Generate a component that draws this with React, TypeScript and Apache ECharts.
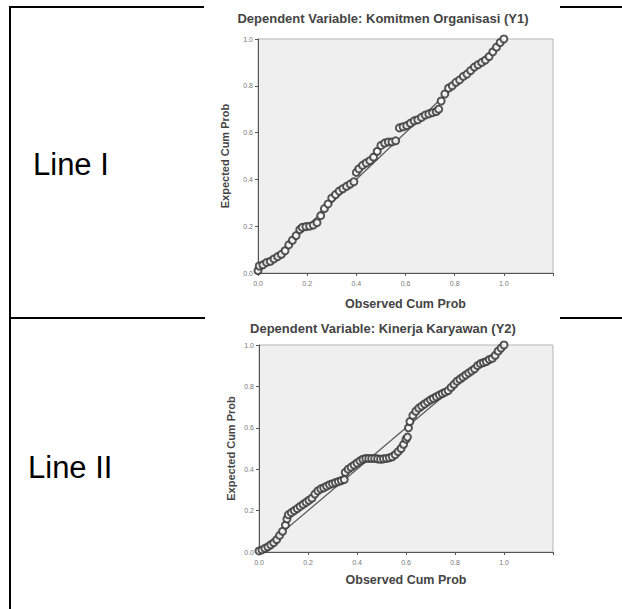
import React, { useEffect, useRef } from "react";
import * as echarts from "echarts";

// Normal P-P plot, Y1 (Komitmen Organisasi): [observed, expected]
const pointsY1: [number, number][] = [
  [0.0, 0.01], [0.005, 0.03], [0.02, 0.035], [0.035, 0.045], [0.05, 0.05], [0.065, 0.06],
  [0.08, 0.07], [0.095, 0.08], [0.11, 0.095], [0.125, 0.12], [0.14, 0.14], [0.155, 0.16],
  [0.17, 0.185], [0.18, 0.195], [0.195, 0.198], [0.21, 0.2], [0.225, 0.205], [0.24, 0.215],
  [0.255, 0.245], [0.27, 0.275], [0.285, 0.295], [0.3, 0.32], [0.315, 0.335], [0.33, 0.35],
  [0.345, 0.36], [0.36, 0.37], [0.375, 0.38], [0.39, 0.39], [0.4, 0.43], [0.41, 0.445],
  [0.425, 0.46], [0.44, 0.47], [0.455, 0.48], [0.47, 0.495], [0.485, 0.52], [0.5, 0.545],
  [0.515, 0.555], [0.53, 0.56], [0.545, 0.56], [0.56, 0.565], [0.575, 0.62], [0.59, 0.625],
  [0.605, 0.63], [0.62, 0.64], [0.635, 0.65], [0.65, 0.655], [0.665, 0.665], [0.68, 0.675],
  [0.695, 0.68], [0.71, 0.685], [0.725, 0.69], [0.735, 0.7], [0.745, 0.735], [0.76, 0.765],
  [0.775, 0.79], [0.79, 0.8], [0.805, 0.815], [0.82, 0.825], [0.835, 0.84], [0.85, 0.85],
  [0.865, 0.865], [0.88, 0.88], [0.895, 0.89], [0.91, 0.9], [0.925, 0.91], [0.94, 0.925],
  [0.955, 0.945], [0.97, 0.965], [0.985, 0.985], [1.0, 1.0],
];

// Normal P-P plot, Y2 (Kinerja Karyawan): [observed, expected]
const pointsY2: [number, number][] = [
  [0.0, 0.005], [0.012, 0.01], [0.024, 0.018], [0.036, 0.025], [0.048, 0.035], [0.06, 0.045],
  [0.072, 0.06], [0.084, 0.08], [0.096, 0.1], [0.108, 0.13], [0.114, 0.16], [0.12, 0.18],
  [0.132, 0.19], [0.144, 0.2], [0.156, 0.21], [0.168, 0.22], [0.18, 0.23], [0.192, 0.24],
  [0.204, 0.25], [0.216, 0.26], [0.228, 0.28], [0.24, 0.295], [0.252, 0.305], [0.264, 0.31],
  [0.276, 0.318], [0.288, 0.325], [0.3, 0.33], [0.312, 0.335], [0.324, 0.34], [0.336, 0.345],
  [0.348, 0.35], [0.352, 0.385], [0.364, 0.4], [0.376, 0.41], [0.388, 0.42], [0.4, 0.43],
  [0.412, 0.44], [0.424, 0.448], [0.436, 0.452], [0.448, 0.452], [0.46, 0.452], [0.472, 0.452],
  [0.484, 0.45], [0.496, 0.448], [0.508, 0.45], [0.52, 0.452], [0.532, 0.455], [0.544, 0.46],
  [0.556, 0.47], [0.568, 0.485], [0.58, 0.5], [0.59, 0.52], [0.6, 0.545], [0.606, 0.555],
  [0.61, 0.6], [0.616, 0.63], [0.628, 0.66], [0.64, 0.68], [0.652, 0.695], [0.664, 0.705],
  [0.676, 0.715], [0.688, 0.725], [0.7, 0.735], [0.712, 0.742], [0.724, 0.75], [0.736, 0.758],
  [0.748, 0.765], [0.76, 0.772], [0.772, 0.78], [0.784, 0.795], [0.796, 0.81], [0.808, 0.825],
  [0.82, 0.835], [0.832, 0.845], [0.844, 0.855], [0.856, 0.865], [0.868, 0.875], [0.88, 0.885],
  [0.892, 0.9], [0.904, 0.91], [0.916, 0.915], [0.928, 0.92], [0.94, 0.93], [0.952, 0.935],
  [0.964, 0.95], [0.976, 0.97], [0.988, 0.985], [1.0, 1.0],
];

const refLine: [number, number][] = [[0, 0], [1, 1]];

const rowLabels = ["Line I", "Line II"];
const chartTitles = [
  "Dependent Variable: Komitmen Organisasi (Y1)",
  "Dependent Variable: Kinerja Karyawan (Y2)",
];
const xAxisName = "Observed Cum Prob";
const yAxisName = "Expected Cum Prob";

const FONT = "'Liberation Sans', Arial, sans-serif";

export default function App() {
  const divRef = useRef<HTMLDivElement>(null);

  useEffect(() => {
    if (!divRef.current) return;
    const chart = echarts.init(divRef.current, undefined, { renderer: "svg" });

    const grids = [
      { left: 258, top: 39, width: 295, height: 234 },
      { left: 259, top: 345, width: 294, height: 207 },
    ];

    const mkX = (i: number, nameGap: number) => ({
      type: "value",
      gridIndex: i,
      min: 0,
      max: 1.2,
      interval: 0.2,
      name: xAxisName,
      nameLocation: "middle",
      nameGap,
      nameTextStyle: { fontFamily: FONT, fontSize: 12.5, fontWeight: "bold", color: "#444" },
      axisLine: { show: true, lineStyle: { color: "#555", width: 1 } },
      axisTick: { show: true, length: 3, lineStyle: { color: "#555" } },
      axisLabel: {
        fontFamily: FONT,
        fontSize: 7,
        color: "#777",
        margin: 7,
        formatter: (v: number) => (v > 1.05 ? "" : v.toFixed(1)),
      },
      splitLine: { show: false },
    });

    const mkY = (i: number, nameGap: number) => ({
      type: "value",
      gridIndex: i,
      min: 0,
      max: 1,
      interval: 0.2,
      name: yAxisName,
      nameLocation: "middle",
      nameGap,
      nameTextStyle: { fontFamily: FONT, fontSize: 11, fontWeight: "bold", color: "#444" },
      axisLine: { show: true, lineStyle: { color: "#555", width: 1 } },
      axisTick: { show: true, length: 3, lineStyle: { color: "#555" } },
      axisLabel: {
        fontFamily: FONT,
        fontSize: 7,
        color: "#777",
        margin: 5,
        formatter: (v: number) => v.toFixed(1),
      },
      splitLine: { show: false },
    });

    const scatter = (i: number, data: [number, number][]) => ({
      type: "scatter",
      xAxisIndex: i,
      yAxisIndex: i,
      data,
      symbol: "emptyCircle",
      symbolSize: 7,
      itemStyle: { color: "#3a3a3a", borderWidth: 1.4, opacity: 0.85 },
      z: 3,
    });

    const diag = (i: number) => ({
      type: "line",
      xAxisIndex: i,
      yAxisIndex: i,
      data: refLine,
      symbol: "none",
      lineStyle: { color: "#555", width: 1.2 },
      z: 2,
    });

    const black = { stroke: "#000", lineWidth: 2 };

    chart.setOption({
      animation: false,
      backgroundColor: "#fff",
      grid: grids.map((g) => ({
        ...g,
        show: true,
        backgroundColor: "#efefef",
        borderColor: "#b5b5b5",
        borderWidth: 1,
      })),
      xAxis: [mkX(0, 24), mkX(1, 21)],
      yAxis: [mkY(0, 28), mkY(1, 23)],
      series: [diag(0), scatter(0, pointsY1), diag(1), scatter(1, pointsY2)],
      graphic: [
        // table borders
        { type: "line", shape: { x1: 9, y1: 7, x2: 204, y2: 7 }, style: black },
        { type: "line", shape: { x1: 560, y1: 7, x2: 622, y2: 7 }, style: black },
        { type: "line", shape: { x1: 10, y1: 6, x2: 10, y2: 609 }, style: black },
        { type: "line", shape: { x1: 9, y1: 318, x2: 205, y2: 318 }, style: black },
        { type: "line", shape: { x1: 560, y1: 318, x2: 622, y2: 318 }, style: black },
        // row labels
        {
          type: "text",
          x: 33,
          y: 164,
          style: { text: rowLabels[0], font: `31px ${FONT}`, fill: "#000", verticalAlign: "middle" },
        },
        {
          type: "text",
          x: 28,
          y: 467,
          style: { text: rowLabels[1], font: `31px ${FONT}`, fill: "#000", verticalAlign: "middle" },
        },
        // chart titles
        {
          type: "text",
          x: 383,
          y: 18,
          style: {
            text: chartTitles[0],
            font: `bold 13px ${FONT}`,
            fill: "#444",
            align: "center",
            verticalAlign: "middle",
          },
        },
        {
          type: "text",
          x: 383,
          y: 328,
          style: {
            text: chartTitles[1],
            font: `bold 13px ${FONT}`,
            fill: "#444",
            align: "center",
            verticalAlign: "middle",
          },
        },
      ],
    });

    return () => chart.dispose();
  }, []);

  return (
    <div
      ref={divRef}
      style={{ position: "absolute", left: 0, top: 0, width: 622, height: 609 }}
    />
  );
}
